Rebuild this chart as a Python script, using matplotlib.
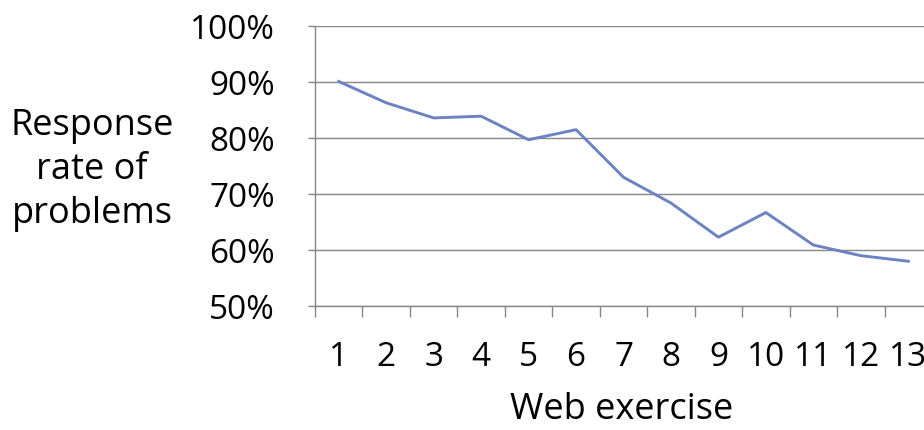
import matplotlib.pyplot as plt
from matplotlib.ticker import FixedLocator, FuncFormatter

exercises = list(range(1, 14))
response_rate = [90.0, 86.2, 83.5, 83.8, 79.6, 81.4, 72.9, 68.3, 62.2, 66.6, 60.8, 58.9, 57.9]
y_ticks = [50, 60, 70, 80, 90, 100]

grid_color = '#868686'
line_color = '#6B83C3'

plt.rcParams['font.family'] = ['Open Sans', 'DejaVu Sans']

fig = plt.figure(figsize=(9.24, 4.31), dpi=100)
ax = fig.add_axes([315 / 924, 124.5 / 431, 617 / 924, 280 / 431])

ax.plot(exercises, response_rate, color=line_color, linewidth=2.1)

ax.set_xlim(0.5, 13.5)
ax.set_ylim(50, 100)

# category boundaries get the tick marks, labels sit in the middle
ax.xaxis.set_major_locator(FixedLocator([i + 0.5 for i in range(0, 14)]))
ax.xaxis.set_major_formatter(FuncFormatter(lambda v, p: ''))
ax.xaxis.set_minor_locator(FixedLocator(exercises))
ax.xaxis.set_minor_formatter(FuncFormatter(lambda v, p: str(int(round(v)))))
ax.tick_params(axis='x', which='major', length=8, width=1, color=grid_color, direction='out')
ax.tick_params(axis='x', which='minor', length=0, pad=25, labelsize=24)

ax.set_yticks(y_ticks)
ax.yaxis.set_major_formatter(FuncFormatter(lambda v, p: f'{int(v)}%'))
ax.tick_params(axis='y', length=5, width=1, color=grid_color, direction='out', pad=24, labelsize=24)

ax.grid(axis='y', color=grid_color, linewidth=1)
ax.set_axisbelow(True)
for s in ['top', 'right']:
    ax.spines[s].set_visible(False)
for s in ['left', 'bottom']:
    ax.spines[s].set_color(grid_color)
    ax.spines[s].set_linewidth(1)

fig.text(92 / 924, 1 - 170 / 431, 'Response\nrate of\nproblems', ha='center', va='center',
         fontsize=26, linespacing=1.3)
fig.text(622 / 924, 1 - 410 / 431, 'Web exercise', ha='center', va='center', fontsize=26)

fig.savefig('out.png', dpi=100)
